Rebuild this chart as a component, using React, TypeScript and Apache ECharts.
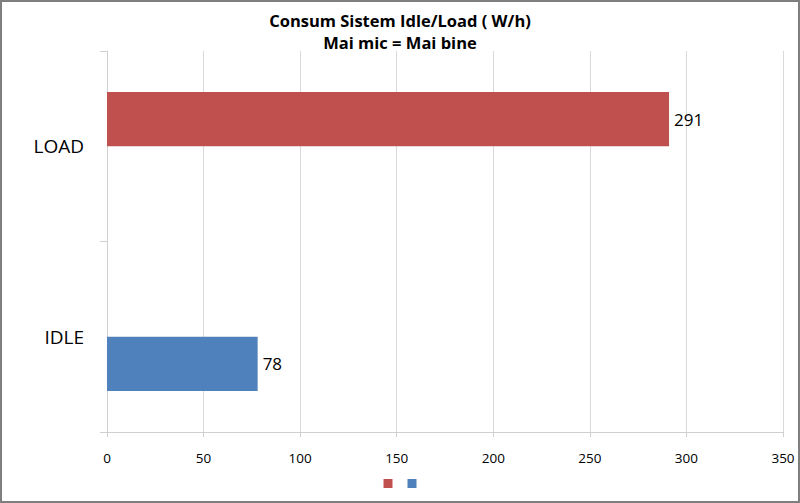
import React, { useEffect, useRef } from "react";
import * as echarts from "echarts";

const categories = ["IDLE", "LOAD"];
const idleValues = [78, null];
const loadValues = [null, 291];
const xTicks = { min: 0, max: 350, interval: 50 };
const titleLines = ["Consum Sistem Idle/Load ( W/h)", "Mai mic = Mai bine"];

export default function App() {
  const ref = useRef<HTMLDivElement>(null);
  useEffect(() => {
    document.body.style.margin = "0";
    const chart = echarts.init(ref.current!, null, { renderer: "svg" });
    const font = "'Open Sans', sans-serif";
    chart.setOption({
      animation: false,
      backgroundColor: "#ffffff",
      textStyle: { fontFamily: font },
      title: {
        text: titleLines.join("\n"),
        left: "center",
        top: 9,
        padding: 0,
        textStyle: { fontSize: 16.5, fontWeight: "bold", color: "#000", lineHeight: 22, fontFamily: font },
      },
      legend: {
        bottom: 10,
        left: "center",
        data: ["LOAD", "IDLE"],
        icon: "rect",
        itemWidth: 9,
        itemHeight: 9,
        itemGap: 15,
        formatter: () => "",
        selectedMode: false,
      },
      grid: { left: 107, right: 17, top: 51, bottom: 71, containLabel: false },
      xAxis: {
        type: "value",
        min: xTicks.min,
        max: xTicks.max,
        interval: xTicks.interval,
        axisLine: { show: true, lineStyle: { color: "#D0D0D0" } },
        axisTick: { show: true, length: 5, lineStyle: { color: "#D0D0D0" } },
        splitLine: { show: true, lineStyle: { color: "#D9D9D9" } },
        axisLabel: { color: "#000", fontSize: 13.5, margin: 19, fontFamily: font },
      },
      yAxis: {
        type: "category",
        data: categories,
        axisLine: { show: true, lineStyle: { color: "#D0D0D0" } },
        axisTick: { show: true, length: 7, lineStyle: { color: "#D0D0D0" } },
        axisLabel: { color: "#000", fontSize: 19, margin: 23, fontFamily: font },
      },
      series: [
        {
          name: "LOAD",
          type: "bar",
          data: loadValues,
          barGap: "0%",
          barCategoryGap: "43%",
          itemStyle: { color: "#C0504D" },
          label: { show: true, position: "right", color: "#000", fontSize: 17, distance: 5, fontFamily: font },
        },
        {
          name: "IDLE",
          type: "bar",
          data: idleValues,
          barGap: "0%",
          barCategoryGap: "43%",
          itemStyle: { color: "#4F81BD" },
          label: { show: true, position: "right", color: "#000", fontSize: 17, distance: 5, fontFamily: font },
        },
      ],
      graphic: [
        {
          type: "rect",
          shape: { x: 1, y: 1, width: 798, height: 501 },
          style: { fill: "none", stroke: "#7F7F7F", lineWidth: 2 },
          silent: true,
        },
      ],
    });
    return () => chart.dispose();
  }, []);
  return <div ref={ref} style={{ width: 800, height: 503 }} />;
}
